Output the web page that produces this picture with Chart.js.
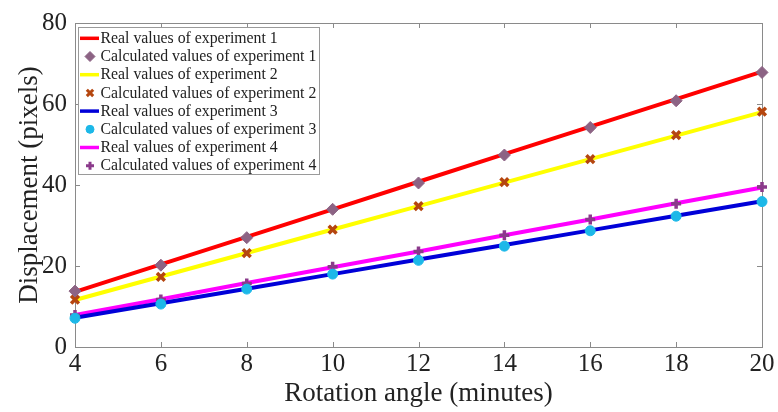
<!DOCTYPE html>
<html><head><meta charset="utf-8">
<script src="https://cdn.jsdelivr.net/npm/chart.js@4"></script>
<style>html,body{margin:0;padding:0;background:#fff}#wrap{width:778px;height:412px}</style>
</head><body><div id="wrap"><canvas id="c" width="778" height="412"></canvas></div>
<script>
// ---- data ----
const angles = [4, 6, 8, 10, 12, 14, 16, 18, 20];
const real1 = [13.6, 20.4, 27.2, 34.0, 40.8, 47.6, 54.4, 61.2, 68.0];
const calc1 = [13.8, 20.2, 27.0, 34.0, 40.5, 47.4, 54.2, 60.8, 67.8];
const real2 = [11.6, 17.4, 23.2, 29.0, 34.8, 40.6, 46.4, 52.2, 58.0];
const calc2 = [11.7, 17.3, 23.2, 29.0, 34.8, 40.7, 46.4, 52.3, 58.1];
const real3 = [7.2, 10.8, 14.4, 18.0, 21.6, 25.2, 28.8, 32.4, 36.0];
const calc3 = [7.1, 10.6, 14.3, 18.0, 21.4, 24.9, 28.7, 32.3, 35.9];
const real4 = [7.9, 11.8, 15.8, 19.7, 23.6, 27.6, 31.5, 35.5, 39.4];
const calc4 = [7.9, 11.7, 15.7, 19.8, 23.6, 27.6, 31.5, 35.4, 39.5];
const xTickValues = [4, 6, 8, 10, 12, 14, 16, 18, 20];
const yTickValues = [0, 20, 40, 60, 80];
const seriesLabels = [
  'Real values of experiment 1', 'Calculated values of experiment 1',
  'Real values of experiment 2', 'Calculated values of experiment 2',
  'Real values of experiment 3', 'Calculated values of experiment 3',
  'Real values of experiment 4', 'Calculated values of experiment 4'
];
const xTitle = 'Rotation angle (minutes)';
const yTitle = 'Displacement (pixels)';

// ---- styling ----
const SERIF = '"Liberation Serif", "DejaVu Serif", serif';
const TXT = '#222222';
const FRAME = '#8a8a8a';

const pts = arr => angles.map((a, i) => ({x: a, y: arr[i]}));
const lineDS = (label, data, color) => ({
  label, data: pts(data), borderColor: color, backgroundColor: color,
  borderWidth: 4, pointRadius: 0, fill: false, tension: 0, order: 2, clip: false
});
const markDS = (label, data, style, fill, stroke, r, bw) => ({
  label, data: pts(data), showLine: false, pointStyle: style,
  pointRadius: r, pointHoverRadius: r, backgroundColor: fill, borderColor: stroke,
  pointBorderWidth: bw, borderWidth: bw, order: 1, clip: false
});

const datasets = [
  lineDS(seriesLabels[0], real1, '#ff0000'),
  markDS(seriesLabels[1], calc1, 'rectRot', '#8c6384', '#8c6384', 6, 1),
  lineDS(seriesLabels[2], real2, '#ffff00'),
  markDS(seriesLabels[3], calc2, 'crossRot', '#b5460f', '#b5460f', 5.5, 3.5),
  lineDS(seriesLabels[4], real3, '#0000d8'),
  markDS(seriesLabels[5], calc3, 'circle', '#1cb8e8', '#1cb8e8', 5, 1),
  lineDS(seriesLabels[6], real4, '#ff00ff'),
  markDS(seriesLabels[7], calc4, 'cross', '#8b3a8b', '#8b3a8b', 5, 3.5)
];

const framePlugin = {
  id: 'frame',
  beforeDatasetsDraw(chart) {
    const {ctx, chartArea: a, scales} = chart;
    ctx.save();
    ctx.strokeStyle = FRAME; ctx.lineWidth = 1;
    ctx.strokeRect(Math.round(a.left) + 0.5, Math.round(a.top) + 0.5,
      Math.round(a.right - a.left), Math.round(a.bottom - a.top));
    const tl = 5;
    ctx.beginPath();
    xTickValues.forEach(v => {
      const x = Math.round(scales.x.getPixelForValue(v)) + 0.5;
      ctx.moveTo(x, a.bottom); ctx.lineTo(x, a.bottom - tl);
      ctx.moveTo(x, a.top); ctx.lineTo(x, a.top + tl);
    });
    yTickValues.forEach(v => {
      const y = Math.round(scales.y.getPixelForValue(v)) + 0.5;
      ctx.moveTo(a.left, y); ctx.lineTo(a.left + tl, y);
      ctx.moveTo(a.right, y); ctx.lineTo(a.right - tl, y);
    });
    ctx.stroke();
    ctx.restore();
  }
};

const legendPlugin = {
  id: 'boxLegend',
  afterDraw(chart) {
    const c = chart.ctx;
    const bx = 78.5, by = 27.5, bw = 241, bh = 147;
    c.save();
    c.fillStyle = '#ffffff'; c.fillRect(bx, by, bw, bh);
    c.strokeStyle = '#9a9a9a'; c.lineWidth = 1; c.strokeRect(bx, by, bw, bh);
    c.font = '15.8px ' + SERIF; c.textBaseline = 'middle'; c.textAlign = 'left';
    chart.data.datasets.forEach((ds, i) => {
      const cy = 38.3 + i * 18.2;
      if (ds.showLine === false) {
        c.fillStyle = ds.backgroundColor; c.strokeStyle = ds.borderColor;
        const isX = ds.pointStyle === 'cross' || ds.pointStyle === 'crossRot';
        c.lineWidth = isX ? 3 : 1;
        Chart.helpers.drawPoint(c, {
          pointStyle: ds.pointStyle, rotation: 0,
          radius: ds.pointStyle === 'rectRot' ? 5 : (ds.pointStyle === 'crossRot' ? 4.5 : 4),
          borderWidth: c.lineWidth
        }, 90, cy);
      } else {
        c.strokeStyle = ds.borderColor; c.lineWidth = 3.5;
        c.beginPath(); c.moveTo(80, cy); c.lineTo(99, cy); c.stroke();
      }
      c.fillStyle = TXT;
      c.fillText(ds.label, 100.5, cy + 0.5);
    });
    c.restore();
  }
};

new Chart(document.getElementById('c'), {
  type: 'line',
  data: {datasets},
  plugins: [framePlugin, legendPlugin],
  options: {
    responsive: false, animation: false, devicePixelRatio: 1,
    layout: {padding: {top: 22, right: 16, left: 0, bottom: 0}},
    plugins: {legend: {display: false}, tooltip: {enabled: false}},
    scales: {
      x: {
        type: 'linear', min: 4, max: 20,
        afterBuildTicks: s => { s.ticks = xTickValues.map(v => ({value: v})); },
        afterFit: s => { s.height = 65; },
        grid: {display: false, drawTicks: false}, border: {display: false},
        ticks: {font: {family: SERIF, size: 25}, color: TXT, padding: 2, maxRotation: 0},
        title: {display: true, text: xTitle, font: {family: SERIF, size: 27}, color: TXT, padding: {top: 0, bottom: 2}}
      },
      y: {
        type: 'linear', min: 0, max: 80,
        afterBuildTicks: s => { s.ticks = yTickValues.map(v => ({value: v})); },
        afterFit: s => { s.width = 75; },
        grid: {display: false, drawTicks: false}, border: {display: false},
        ticks: {font: {family: SERIF, size: 25}, color: TXT, padding: 8},
        title: {display: true, text: yTitle, font: {family: SERIF, size: 27}, color: TXT, padding: {top: 14, bottom: 0}}
      }
    }
  }
});
</script>
</body></html>
